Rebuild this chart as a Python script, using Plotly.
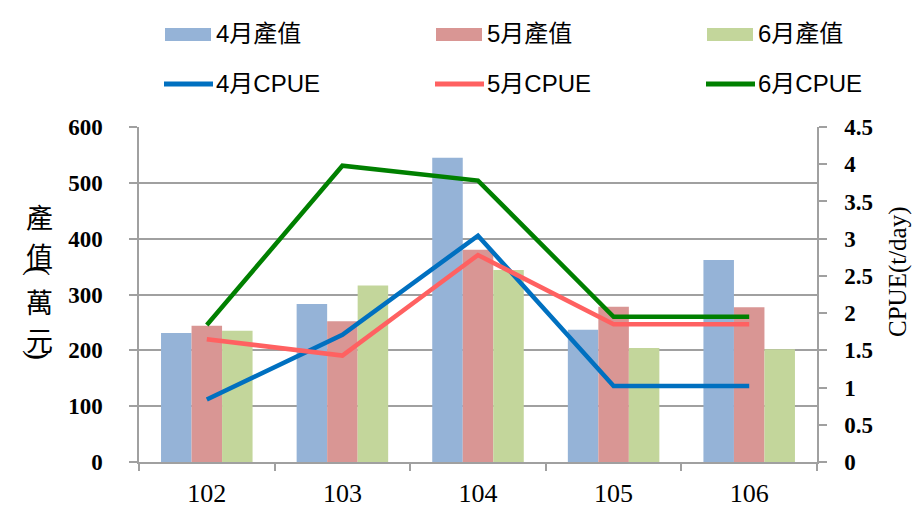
import plotly.graph_objects as go

# ---------------- data ----------------
years = ["102", "103", "104", "105", "106"]
bar_names = ["4月產值", "5月產值", "6月產值"]
val_apr = [231, 283, 545, 237, 362]
val_may = [244, 252, 380, 278, 277]
val_jun = [235, 316, 344, 204, 202]
line_names = ["4月CPUE", "5月CPUE", "6月CPUE"]
cpue_apr = [0.84, 1.71, 3.04, 1.02, 1.02]
cpue_may = [1.65, 1.43, 2.78, 1.85, 1.85]
cpue_jun = [1.84, 3.98, 3.78, 1.95, 1.95]
left_title = "產值(萬元)"  # drawn vertically, one glyph per line
right_title = "CPUE(t/day)"

bar_colors = ["#95B3D7", "#D99694", "#C3D69B"]
line_colors = ["#0070C0", "#FF6161", "#008000"]

W, H = 917, 519
L, R, T, B = 139, 817, 127, 462  # plot area in pixels


def px(x):
    return (x - L) / (R - L)


def py(y):
    return (B - y) / (B - T)


fig = go.Figure()
for name, vals, col in zip(bar_names, [val_apr, val_may, val_jun], bar_colors):
    fig.add_trace(go.Bar(x=years, y=vals, name=name, marker=dict(color=col, line=dict(width=0)),
                         showlegend=False))
for name, vals, col in zip(line_names, [cpue_apr, cpue_may, cpue_jun], line_colors):
    fig.add_trace(go.Scatter(x=years, y=vals, name=name, mode="lines", yaxis="y2",
                             line=dict(color=col, width=4.5), showlegend=False))

grid_col = "#A0A0A0"
serif = "Liberation Serif, Times New Roman, serif"
sans = "Liberation Sans, Arial, Noto Sans CJK TC, sans-serif"
cjk = "Noto Sans CJK TC"

annotations = []
shapes = []
# manual legend
col_x = [165, 436, 707]
for i in range(3):
    x0 = col_x[i]
    shapes.append(dict(type="rect", xref="paper", yref="paper",
                       x0=px(x0), x1=px(x0 + 46), y0=py(41), y1=py(28),
                       fillcolor=bar_colors[i], line=dict(width=0)))
    annotations.append(dict(xref="paper", yref="paper", x=px(x0 + 49), y=py(34),
                            xanchor="left", yanchor="middle", showarrow=False,
                            text=bar_names[i], font=dict(family=sans, size=24, color="black")))
    shapes.append(dict(type="line", xref="paper", yref="paper",
                       x0=px(x0 - 1), x1=px(x0 + 48), y0=py(84), y1=py(84),
                       line=dict(color=line_colors[i], width=5)))
    annotations.append(dict(xref="paper", yref="paper", x=px(x0 + 49), y=py(83),
                            xanchor="left", yanchor="middle", showarrow=False,
                            text=line_names[i], font=dict(family=sans, size=24, color="black")))

# left axis title, vertical writing: each glyph stacked, brackets turned 90 degrees
glyph_y = [216, 255, 271, 301, 339, 355]
for ch, gy in zip(left_title, glyph_y):
    if ch in "()":
        annotations.append(dict(xref="paper", yref="paper", x=px(39), y=py(gy),
                                xanchor="center", yanchor="middle", showarrow=False,
                                textangle=90, text=ch,
                                font=dict(family=serif, size=30, color="black")))
    else:
        annotations.append(dict(xref="paper", yref="paper", x=px(39), y=py(gy),
                                xanchor="center", yanchor="middle", showarrow=False,
                                text=ch, font=dict(family=cjk, size=27, color="black")))
# right axis title
annotations.append(dict(xref="paper", yref="paper", x=px(898), y=py(272),
                        xanchor="center", yanchor="middle", showarrow=False, textangle=-90,
                        text=right_title, font=dict(family=serif, size=25, color="black")))

fig.update_layout(
    width=W, height=H,
    margin=dict(l=L, r=W - R, t=T, b=H - B, pad=0),
    paper_bgcolor="white", plot_bgcolor="white",
    barmode="group", bargap=0.325, bargroupgap=0,
    showlegend=False,
    xaxis=dict(type="category", showline=True, linecolor=grid_col, linewidth=1.5,
               ticks="outside", tickson="boundaries", ticklen=7, tickcolor=grid_col, tickwidth=1.5,
               tickfont=dict(family=serif, size=26, color="black"), ticklabelstandoff=7,
               showgrid=False, zeroline=False),
    yaxis=dict(range=[0, 600], dtick=100, showline=True, linecolor=grid_col, linewidth=1.5,
               ticks="outside", ticklen=8, tickcolor=grid_col, tickwidth=1.5,
               showgrid=True, gridcolor=grid_col, gridwidth=1.5, zeroline=False,
               tickfont=dict(family=serif, size=23, color="black", weight="bold"),
               ticklabelstandoff=22),
    yaxis2=dict(range=[0, 4.5], dtick=0.5, overlaying="y", side="right", showline=True,
                linecolor=grid_col, linewidth=1.5, ticks="outside", ticklen=8, tickcolor=grid_col,
                tickwidth=1.5, showgrid=False, zeroline=False,
                tickfont=dict(family=serif, size=23, color="black", weight="bold"),
                ticklabelstandoff=13),
    annotations=annotations,
    shapes=shapes,
)

fig.write_html("out.html")
